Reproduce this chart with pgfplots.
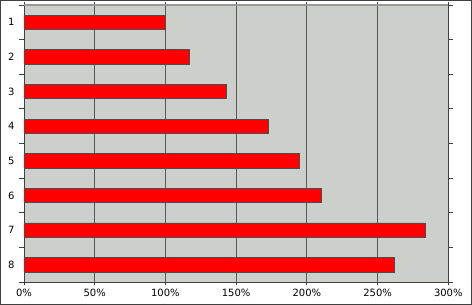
\documentclass[border=0pt]{standalone}
\usepackage{pgfplots}
\pgfplotsset{compat=1.18}
\usepackage{fontspec}
\setmainfont{DejaVu Sans}
\definecolor{plotbg}{RGB}{205,207,202}
\begin{document}
\begin{tikzpicture}
\begin{axis}[scale only axis,
  width=424.3pt, height=277pt,
  font=\fontsize{10}{12}\selectfont,
  xbar, bar width=14.3pt,
  xmin=0, xmax=300, ymin=0.5, ymax=8.5, y dir=reverse,
  axis background/.style={fill=plotbg},
  axis line style={black!75, line width=0.8pt},
  xtick={0,50,100,150,200,250,300},
  xticklabels={0\%,50\%,100\%,150\%,200\%,250\%,300\%},
  ytick={1,2,3,4,5,6,7,8},
  yticklabels={1,2,3,4,5,6,7,8},
  minor ytick={0.5,1.5,2.5,3.5,4.5,5.5,6.5,7.5,8.5},
  tick align=outside,
  major tick length=3pt, minor tick length=5pt,
  major y tick style={draw=none},
  minor y tick style={black!75, line width=0.8pt},
  major x tick style={black!75, line width=0.8pt},
  xmajorgrids, major x grid style={black!65, line width=0.8pt},
  yticklabel style={xshift=-3pt},
  xticklabel style={yshift=-1pt},
  clip=false,
]
\addplot[fill=red, draw=black!70, line width=0.6pt, bar shift=0pt] coordinates {
(100,1) (117,2) (143,3) (173,4) (195,5) (210,6) (284,7) (262,8)};
\draw[black!40, line width=1.2pt] (rel axis cs:0,1) -- (rel axis cs:1,1);
\end{axis}
\draw[black!75,line width=1pt] (-23.5pt,-22.5pt) rectangle (447.5pt,281.5pt);
\useasboundingbox (-24pt,-23pt) rectangle (448pt,282pt);
\end{tikzpicture}
\end{document}
